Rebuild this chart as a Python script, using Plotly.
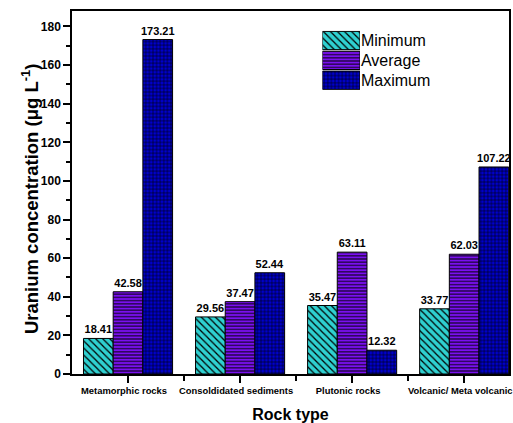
import plotly.graph_objects as go

categories = ["Metamorphic rocks", "Consoldidated sediments", "Plutonic rocks", "Volcanic/ Meta volcanic"]
series_names = ["Minimum", "Average", "Maximum"]
minimum = [18.41, 29.56, 35.47, 33.77]
average = [42.58, 37.47, 63.11, 62.03]
maximum = [173.21, 52.44, 12.32, 107.22]
y_ticks = [0, 20, 40, 60, 80, 100, 120, 140, 160, 180]

series_values = [minimum, average, maximum]
bg_colors = ["#2fd0d0", "#7a10f0", "#0000cc"]
shapes = ["\\", "-", "+"]
psizes = [5, 3.2, 3.6]
psolid = [0.25, 0.3, 0.28]

FONT = "Liberation Sans, Arial, sans-serif"
xpos = list(range(len(categories)))

fig = go.Figure()
for name, vals, bg, sh, sz, so in zip(series_names, series_values, bg_colors, shapes, psizes, psolid):
    pat = dict(shape=sh, fgcolor="black", bgcolor=bg, size=sz, solidity=so, fillmode="replace")
    fig.add_trace(go.Bar(
        x=xpos, y=vals, name=name,
        marker=dict(color=bg, line=dict(color="black", width=1), pattern=pat),
        text=[f"{v:.2f}" for v in vals], textposition="outside", constraintext="none",
        textfont=dict(family=FONT, size=11, color="black", weight="bold"),
        cliponaxis=False, showlegend=False,
    ))
    # custom legend swatch in a small overlay subplot
    fig.add_trace(go.Bar(
        x=[1], y=[name], orientation="h", width=0.92, offsetgroup="legend",
        xaxis="x2", yaxis="y2", showlegend=False, hoverinfo="skip",
        marker=dict(color=bg, line=dict(color="black", width=1), pattern=pat),
    ))

fig.update_layout(
    width=513, height=423,
    margin=dict(l=72, r=4, t=11, b=49, autoexpand=False),
    paper_bgcolor="white", plot_bgcolor="white",
    barmode="group", bargap=0.205, bargroupgap=0,
    font=dict(family=FONT, color="black"),
    xaxis=dict(
        range=[-0.5, 3.4], tickvals=xpos, ticktext=categories, ticklabeloverflow="allow",
        ticklabelshift=-4,
        tickfont=dict(family=FONT, size=9.4, color="black", weight="bold"),
        ticks="outside", ticklen=7, tickwidth=1.5, tickcolor="black",
        minor=dict(tickvals=[0.5, 1.5, 2.5], ticks="outside", ticklen=5, tickwidth=1.5, tickcolor="black"),
        showline=True, linecolor="black", linewidth=1.5, mirror=True,
        showgrid=False, zeroline=False, automargin=False,
        title=dict(text="Rock type", font=dict(family=FONT, size=16, color="black", weight="bold"), standoff=15),
    ),
    yaxis=dict(
        range=[0, 188], tickvals=y_ticks,
        tickfont=dict(family=FONT, size=12, color="black", weight="bold"),
        ticks="outside", ticklen=7, tickwidth=1.5, tickcolor="black",
        minor=dict(dtick=10, ticks="outside", ticklen=4, tickwidth=1.5, tickcolor="black"),
        showline=True, linecolor="black", linewidth=1.5, mirror=True,
        showgrid=False, zeroline=False, automargin=False,
    ),
    xaxis3=dict(overlaying="x", anchor="y", side="top", range=[-0.5, 3.4], tickvals=xpos,
                ticks="inside", ticklen=6, tickwidth=1.5, tickcolor="black",
                showticklabels=False, showgrid=False, zeroline=False, showline=False),
    yaxis3=dict(overlaying="y", anchor="x", side="right", range=[0, 188], dtick=10,
                ticks="inside", ticklen=4, tickwidth=1.5, tickcolor="black",
                showticklabels=False, showgrid=False, zeroline=False, showline=False),
    xaxis2=dict(domain=[0.573, 0.659], anchor="y2", range=[0, 1], visible=False, fixedrange=True),
    yaxis2=dict(domain=[0.782, 0.946], anchor="x2", side="right", autorange="reversed",
                showline=False, ticks="", showgrid=False, zeroline=False, automargin=False,
                tickfont=dict(family=FONT, size=16, color="black")),
    annotations=[dict(
        text="Uranium concentration (μg L<sup>-1</sup>)", textangle=-90,
        xref="paper", yref="paper", x=-0.096, y=0.482, xanchor="center", yanchor="middle",
        showarrow=False, font=dict(family=FONT, size=18.5, color="black", weight="bold"),
    )],
)

# remove the default page margin so the 513x423 figure fills the window exactly
fig.write_html(
    "out.html",
    config={"displayModeBar": False},
    post_script="document.body.style.margin='0';document.body.style.overflow='hidden';"
                "document.documentElement.style.overflow='hidden';",
)
